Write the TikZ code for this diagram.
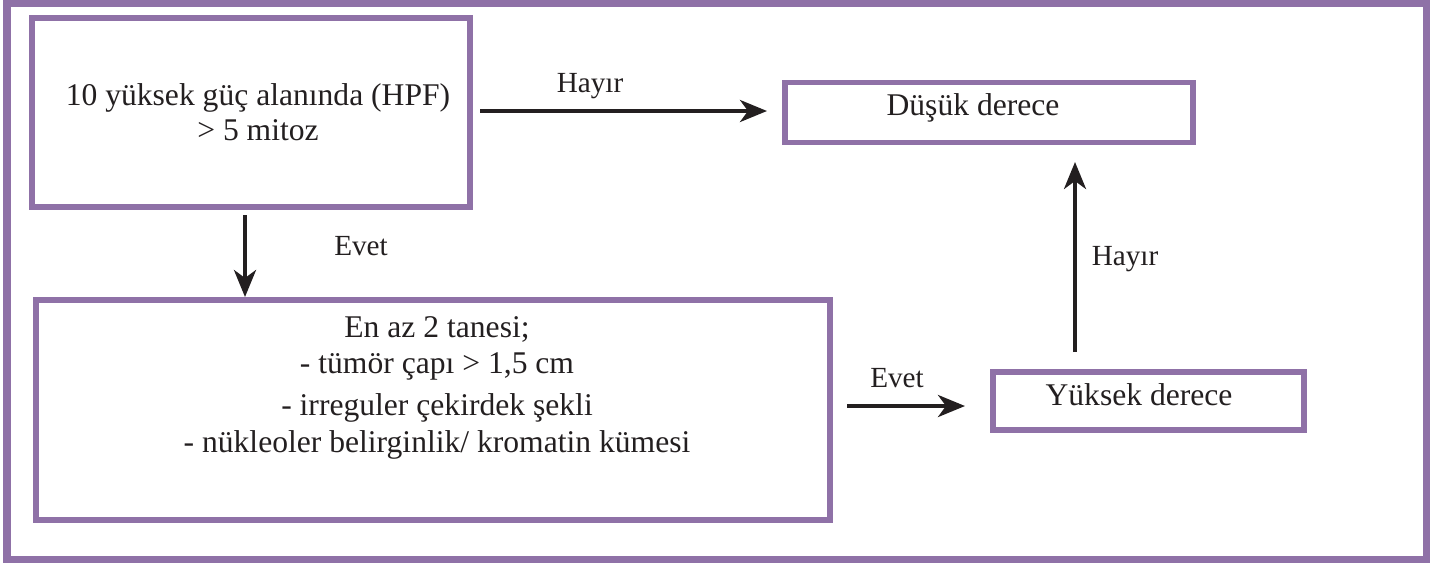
\documentclass[tikz,border=0pt]{standalone}
\usepackage{fontspec}
\setmainfont{Liberation Serif}
\usetikzlibrary{arrows.meta}
\definecolor{frame}{RGB}{143,113,167}
\definecolor{ink}{RGB}{35,31,32}
\tikzset{
  box/.style={draw=frame, line width=2.8pt, rectangle, inner sep=0pt},
  main/.style={font=\fontsize{15.8}{18}\selectfont, text=ink, anchor=base, inner sep=0pt},
  lbl/.style={font=\fontsize{14.6}{17}\selectfont, text=ink, anchor=base, inner sep=0pt},
  arr/.style={draw=ink, line width=2pt, -{Stealth[length=13.5pt, width=11pt, inset=4pt]}}
}
\begin{document}
\begin{tikzpicture}[x=0.5pt, y=-0.5pt]
\useasboundingbox (0,0) rectangle (1443,564);
% outer frame
\draw[draw=frame, line width=3.6pt] (7,3.5) rectangle (1426.5,559.5);
% boxes
\node[box, line width=3pt, minimum width=219pt, minimum height=94.5pt] (b1) at (251,112.5) {};
\node[box, minimum width=204pt, minimum height=30pt] (b3) at (989,112.5) {};
\node[box, minimum width=397pt, minimum height=110pt] (b2) at (433,410) {};
\node[box, minimum width=155.5pt, minimum height=29pt] (b4) at (1148.5,401) {};
% texts
\node[main] (t1a) at (258,105) {10 yüksek güç alanında (HPF)};
\node[main] (t1b) at (258,140) {> 5 mitoz};
\node[main] (t3) at (973,115) {Düşük derece};
\node[main] (t2a) at (437,337) {En az 2 tanesi;};
\node[main] (t2b) at (437,373) {- tümör çapı > 1,5 cm};
\node[main] (t2c) at (437,415) {- irreguler çekirdek şekli};
\node[main] (t2d) at (437,452) {- nükleoler belirginlik/ kromatin kümesi};
\node[main] (t4) at (1139,405) {Yüksek derece};
% connectors
\coordinate (a1s) at (480,111);
\coordinate (a1e) at (767,111);
\draw[arr] (a1s) -- (a1e);
\node[lbl] (l1) at (590,92) {Hayır};
\coordinate (a2s) at (245,215);
\coordinate (a2e) at (245,297);
\draw[arr] (a2s) -- (a2e);
\node[lbl] (l2) at (361,255) {Evet};
\coordinate (a3s) at (847,406);
\coordinate (a3e) at (965,406);
\draw[arr] (a3s) -- (a3e);
\node[lbl] (l3) at (897,387) {Evet};
\coordinate (a4s) at (1075,352);
\coordinate (a4e) at (1075,162);
\draw[arr] (a4s) -- (a4e);
\node[lbl] (l4) at (1125,265) {Hayır};
\end{tikzpicture}
\end{document}
